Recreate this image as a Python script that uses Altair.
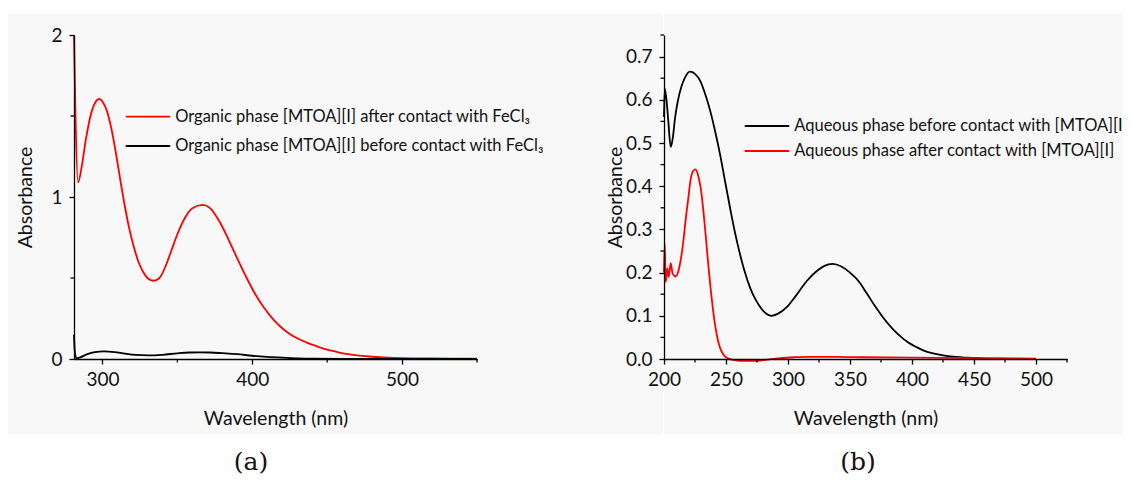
import altair as alt
import pandas as pd

# ---------------- Panel (a) data ----------------
a_red_wl = [281, 282, 283.7, 286, 289, 292, 295, 297.7, 300, 303, 306, 309, 312, 315, 318, 321, 324, 327, 330,
            334, 338, 342, 346, 350, 355, 360, 367, 372, 378, 384, 390, 396, 402, 408, 414, 420, 425, 430, 436,
            442, 447, 453, 458, 464, 470, 480, 490, 500, 520, 550]
a_red_val = [2.0, 1.5, 1.09, 1.18, 1.36, 1.50, 1.58, 1.605, 1.59, 1.53, 1.42, 1.27, 1.10, 0.94, 0.80, 0.69, 0.60,
             0.54, 0.50, 0.483, 0.50, 0.57, 0.67, 0.77, 0.87, 0.93, 0.951, 0.93, 0.85, 0.74, 0.62, 0.505, 0.40,
             0.315, 0.245, 0.19, 0.155, 0.128, 0.103, 0.082, 0.066, 0.051, 0.04, 0.03, 0.022, 0.014, 0.008,
             0.005, 0.003, 0.002]
a_blk_wl = [281, 281.5, 282.5, 285, 290, 295, 301, 308, 315, 322, 331, 340, 350, 358, 365, 372, 380, 390, 400,
            410, 420, 430, 440, 460, 500, 550]
a_blk_val = [0.15, 0.05, 0.005, 0.01, 0.03, 0.042, 0.047, 0.043, 0.033, 0.025, 0.022, 0.026, 0.035, 0.04, 0.041,
             0.04, 0.036, 0.03, 0.02, 0.013, 0.008, 0.004, 0.002, 0.001, 0.0005, 0.0]
a_labels = ["Organic phase [MTOA][I] after contact with FeCl\u2083",
            "Organic phase [MTOA][I] before contact with FeCl\u2083"]
a_x_ticks = [300, 400, 500]
a_x_minor = [350, 450, 550]
a_y_ticks = [0.0, 1.0, 2.0]
a_y_minor = [0.5, 1.5]

# ---------------- Panel (b) data ----------------
b_blk_wl = [200, 200.6, 202, 203.5, 205.4, 207, 209, 211, 214, 217, 221, 225, 229.5, 233, 237.5, 241, 245.6, 249,
            253.6, 257, 261.7, 265, 269.7, 274, 277.7, 282, 286.6, 292, 299, 306, 315, 323, 329, 336, 343, 350,
            357, 363.5, 370, 377, 384, 390, 397, 404, 410, 417, 424, 431, 444, 460, 480, 500]
b_blk_val = [0.56, 0.626, 0.60, 0.55, 0.491, 0.51, 0.56, 0.595, 0.63, 0.652, 0.665, 0.66, 0.642, 0.615, 0.572,
             0.53, 0.468, 0.415, 0.345, 0.296, 0.238, 0.203, 0.163, 0.137, 0.12, 0.106, 0.10, 0.105, 0.12, 0.145,
             0.18, 0.203, 0.215, 0.22, 0.214, 0.20, 0.180, 0.152, 0.123, 0.095, 0.071, 0.054, 0.038, 0.027,
             0.019, 0.013, 0.009, 0.006, 0.003, 0.001, 0.0005, 0.0]
b_red_wl = [200, 200.6, 201.4, 202.7, 203.8, 205.4, 207, 209.4, 211, 213.4, 215.5, 217.4, 219.5, 221.4, 223.5,
            225.5, 227.5, 229.5, 231.5, 233.5, 235.5, 237.5, 239.5, 241.5, 243.5, 245.6, 248, 251, 256, 262, 275,
            285, 294, 305, 315, 330, 340, 360, 400, 450, 500]
b_red_val = [0.20, 0.267, 0.178, 0.21, 0.19, 0.222, 0.197, 0.191, 0.198, 0.228, 0.27, 0.321, 0.37, 0.414, 0.435,
             0.439, 0.425, 0.398, 0.35, 0.29, 0.225, 0.166, 0.115, 0.073, 0.043, 0.023, 0.01, 0.002, -0.002,
             -0.004, -0.004, -0.001, 0.002, 0.004, 0.005, 0.005, 0.005, 0.004, 0.003, 0.002, 0.001]
b_labels = ["Aqueous phase before contact with [MTOA][I]",
            "Aqueous phase after contact with [MTOA][I]"]
b_x_ticks = [200, 250, 300, 350, 400, 450, 500]
b_x_minor = [225, 275, 325, 375, 425, 475, 525]
b_y_ticks = [0.0, 0.1, 0.2, 0.3, 0.4, 0.5, 0.6, 0.7]
b_y_minor = [0.05, 0.15, 0.25, 0.35, 0.45, 0.55, 0.65, 0.75]

captions = ["(a)", "(b)"]
x_title = "Wavelength (nm)"
y_title = "Absorbance"

RED = "#ff0000"
BLACK = "#000000"
GREY = "#f8f8f8"
FONT = "Lato"
W, H = 403, 324
one = alt.Data(values=[{"k": 0}])


def panel(series, xdom, ydom, xt, xm, yt, ym, yfmt, leg_x, leg_y, bg_x, cap, cap_x, leg_limit):
    xs = alt.Scale(domain=xdom, nice=False, zero=False)
    ys = alt.Scale(domain=ydom, nice=False, zero=False)
    xax = alt.Axis(values=xt, tickCount=len(xt), format="d", title=x_title, titleY=59,
                   titleBaseline="middle", zindex=2, labelPadding=6)
    yax = alt.Axis(values=yt, tickCount=len(yt), format=yfmt, title=y_title, titleX=-49,
                   titleBaseline="middle", zindex=2, labelPadding=7)

    def X():
        return alt.X("wl:Q", scale=xs, axis=xax)

    def Y():
        return alt.Y("abs:Q", scale=ys, axis=yax)

    bg = alt.Chart(one).mark_rect(color=GREY).encode(
        x=alt.value(bg_x[0]), x2=alt.value(bg_x[1]), y=alt.value(-21), y2=alt.value(399))
    layers = [bg]

    for name, wl, val, col in series:
        df = pd.DataFrame({"wl": wl, "abs": val})
        layers.append(alt.Chart(df).mark_line(strokeWidth=1.8, color=col, interpolate="monotone")
                      .encode(x=X(), y=Y()))

    mx = alt.Chart(pd.DataFrame({"wl": xm})).mark_rule(color=BLACK, strokeWidth=1.3).encode(
        x=X(), y=alt.value(H), y2=alt.value(H + 3.5))
    my = alt.Chart(pd.DataFrame({"abs": ym})).mark_rule(color=BLACK, strokeWidth=1.3).encode(
        y=Y(), x=alt.value(0), x2=alt.value(-3.5))
    layers += [mx, my]

    for (name, wl, val, col), yy in zip(series, leg_y):
        layers.append(alt.Chart(one).mark_rule(color=col, strokeWidth=1.8).encode(
            x=alt.value(leg_x), x2=alt.value(leg_x + 44.5), y=alt.value(yy)))
        layers.append(alt.Chart(pd.DataFrame({"t": [name]})).mark_text(
            align="left", baseline="middle", font=FONT, fontSize=16.5, color="#111111",
            limit=leg_limit, ellipsis="\u200b").encode(
            x=alt.value(leg_x + 49.5), y=alt.value(yy), text="t:N"))
    layers.append(alt.Chart(pd.DataFrame({"t": [cap]})).mark_text(
        align="center", baseline="middle", font="DejaVu Serif", fontSize=25, color="#111111").encode(
        x=alt.value(cap_x), y=alt.value(427), text="t:N"))
    return alt.layer(*layers).properties(width=W, height=H)


left = panel(
    [(a_labels[0], a_red_wl, a_red_val, RED), (a_labels[1], a_blk_wl, a_blk_val, BLACK)],
    [281, 550], [0, 2], a_x_ticks, a_x_minor, a_y_ticks, a_y_minor, ".0f",
    51.7, [81.7, 111], (-66, 589), captions[0], 177, 500)

right = panel(
    [(b_labels[0], b_blk_wl, b_blk_val, BLACK), (b_labels[1], b_red_wl, b_red_val, RED)],
    [200, 525], [0, 0.75], b_x_ticks, b_x_minor, b_y_ticks, b_y_minor, ".1f",
    80.7, [91, 116], (0, 459), captions[1], 194, 330)

chart = alt.hconcat(left, right, spacing=187, bounds="flush").properties(
    padding={"left": 0, "top": 6, "right": 0, "bottom": 0}
).configure(background="white").configure_view(stroke=None).configure_axis(
    grid=False, domainColor=BLACK, domainWidth=1.3, tickColor=BLACK, tickWidth=1.3, tickSize=5,
    labelColor="#111111", titleColor="#111111", labelFont=FONT, titleFont=FONT, labelFontSize=19,
    titleFontSize=19.5, titleFontWeight="normal", labelFlush=False, labelOverlap=False
)

chart.save("out.html", embed_options={"renderer": "svg", "actions": False})
